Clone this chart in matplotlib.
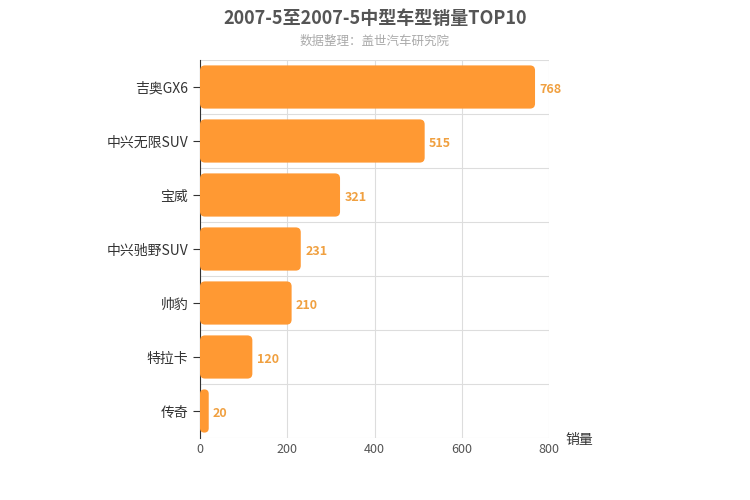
import matplotlib
matplotlib.use("Agg")
import matplotlib.pyplot as plt
from matplotlib.patches import FancyBboxPatch

plt.rcParams["font.family"] = "Noto Sans CJK SC"

categories = ["吉奥GX6", "中兴无限SUV", "宝威", "中兴驰野SUV", "帅豹", "特拉卡", "传奇"]
values = [768, 515, 321, 231, 210, 120, 20]
xticks = [0, 200, 400, 600, 800]

fig = plt.figure(figsize=(7.5, 5), dpi=100)
ax = fig.add_axes([200/750, 62/500, 349/750, 378/500])
n = len(categories)
ax.set_xlim(0, 800)
ax.set_ylim(-0.5, n - 0.5)
ax.invert_yaxis()

xpp = 800 / 349
ypp = n / 378
color = "#ff9933"
for i, v in enumerate(values):
    h = 0.8
    p = FancyBboxPatch((0, i - h/2), v, h,
                       boxstyle=f"round,pad=0,rounding_size={min(5*xpp, v/2)}",
                       mutation_aspect=ypp/xpp, fc=color, ec="none", zorder=3)
    ax.add_patch(p)
    ax.text(v + 10, i + 0.05, str(v), va="center", ha="left", color="#f0a040",
            fontsize=9, fontweight="bold", zorder=4)

ax.set_yticks(range(n))
ax.set_yticklabels(categories, fontsize=10, color="#333333")
ax.set_xticks(xticks)
ax.set_xticklabels([str(t) for t in xticks], fontsize=9, color="#555555")
ax.grid(axis="x", color="#dddddd", lw=0.8, zorder=0)
for k in range(n + 1):
    ax.axhline(k - 0.5, color="#dddddd", lw=0.8, zorder=0)
for s in ["top", "right"]:
    ax.spines[s].set_visible(False)
ax.spines["bottom"].set_visible(False)
ax.spines["left"].set_color("#333333")
ax.tick_params(axis="y", length=5, color="#333333")
ax.tick_params(axis="x", length=0)

fig.text(0.5, 0.963, "2007-5至2007-5中型车型销量TOP10", ha="center", va="center",
         fontsize=13, fontweight="bold", color="#555555")
fig.text(0.5, 0.917, "数据整理：盖世汽车研究院", ha="center", va="center",
         fontsize=9, color="#aaaaaa")
fig.text(565/750, 1 - 440/500, "销量", ha="left", va="center", fontsize=10, color="#333333")

fig.savefig("out.png", dpi=100)
